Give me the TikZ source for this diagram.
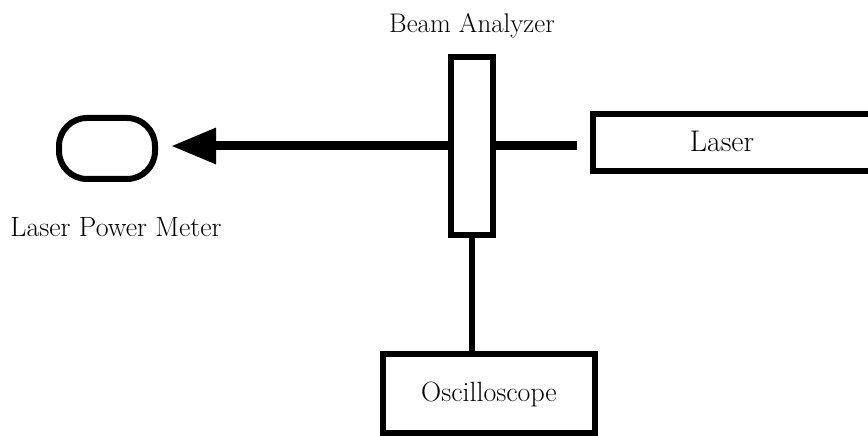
\documentclass[tikz,border=0pt]{standalone}
\usetikzlibrary{arrows.meta}
\begin{document}
\begin{tikzpicture}[x=1bp,y=-1bp,
  box/.style={draw, line width=6bp, rectangle, inner sep=0pt},
  lbl/.style={font=\fontsize{28}{33}\selectfont, inner sep=0pt},
  beam/.style={line width=9bp},
  wire/.style={line width=6.5bp}]
\clip (0,0) rectangle (868,436);
\node[box, rounded corners=28bp, minimum width=96bp, minimum height=61bp] (pm) at (107,148.5) {};
\node[lbl, anchor=base] (pmlabel) at (116,237) {Laser Power Meter};
\node[box, minimum width=42bp, minimum height=178bp] (analyzer) at (472,146) {};
\node[lbl, anchor=base, font=\fontsize{27}{32}\selectfont] (analabel) at (472,33) {Beam Analyzer};
\node[box, minimum width=287bp, minimum height=57bp] (laser) at (736.5,143) {};
\node[lbl, anchor=base, font=\fontsize{30}{35}\selectfont] (laserlabel) at (722,152) {Laser};
\node[box, minimum width=212bp, minimum height=79bp] (osc) at (489,393.5) {};
\node[lbl, anchor=base] (osclabel) at (489,401) {Oscilloscope};
\draw[beam, -{Triangle[length=45bp,width=34bp]}, shorten >=13bp] (analyzer.west) -- (analyzer.west -| pm.east);
\draw[beam, shorten >=13bp] (analyzer.east) -- (analyzer.east -| laser.west);
\draw[wire] (analyzer.south) -- (analyzer.south |- osc.north);
\end{tikzpicture}
\end{document}
